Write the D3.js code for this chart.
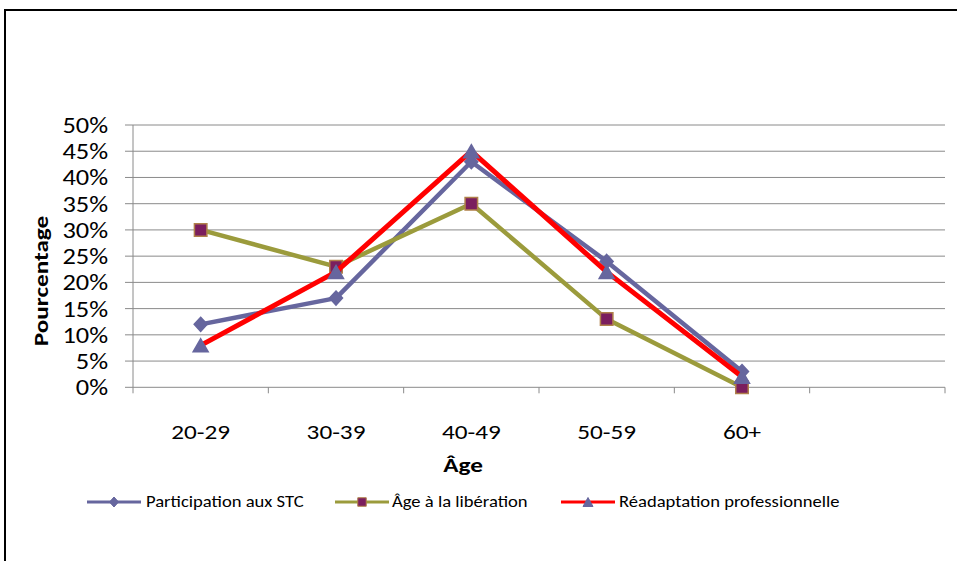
<!DOCTYPE html>
<html><head><meta charset="utf-8">
<script src="https://cdn.jsdelivr.net/npm/d3@7"></script>
<style>body{margin:0;background:#fff}svg{display:block}text{font-family:Carlito,Calibri,Lato,sans-serif}</style>
</head><body><svg id="c" width="957" height="561"></svg>
<script>
const categories = ["20-29","30-39","40-49","50-59","60+",""];
const participation = [12,17,43,24,3];
const liberation = [30,23,35,13,0];
const readaptation = [8,22,45,22,2];
const yTicks = [0,5,10,15,20,25,30,35,40,45,50];
const seriesNames = ["Participation aux STC","Âge à la libération","Réadaptation professionnelle"];

const svg = d3.select("#c");
svg.append("rect").attr("x",5).attr("y",10).attr("width",1100).attr("height",700)
  .attr("fill","#fff").attr("stroke","#000").attr("stroke-width",2);

const SX = 1.2; // horizontal stretch to mimic the original font metrics
const L=133,R=945,T=125,B=387.3;
const x = d3.scaleBand().domain(categories.map((c,i)=>i)).range([L,R]).paddingInner(0).paddingOuter(0);
const y = d3.scaleLinear().domain([0,50]).range([B,T]);

// gridlines
svg.append("g").selectAll("line").data(yTicks).join("line")
  .attr("x1",L-8).attr("x2",R).attr("y1",d=>y(d)).attr("y2",d=>y(d))
  .attr("stroke","#8a8a8a").attr("stroke-width",1);
svg.append("line").attr("x1",L).attr("x2",L).attr("y1",T).attr("y2",B).attr("stroke","#8a8a8a");
const bounds = d3.range(categories.length+1).map(i=>L+i*x.bandwidth());
svg.append("g").selectAll("line").data(bounds).join("line")
  .attr("x1",d=>d).attr("x2",d=>d).attr("y1",B).attr("y2",B+6).attr("stroke","#8a8a8a");
// y labels
svg.append("g").selectAll("text").data(yTicks).join("text")
  .attr("transform",d=>`translate(108,${y(d)}) scale(${SX},1)`).attr("dy","0.36em").attr("text-anchor","end")
  .attr("font-size",22).attr("fill","#000").text(d=>d+"%");
// x labels
svg.append("g").selectAll("text").data(categories).join("text")
  .attr("transform",(d,i)=>`translate(${x(i)+x.bandwidth()/2},439) scale(${SX},1)`).attr("text-anchor","middle")
  .attr("font-size",21).attr("fill","#000").text(d=>d);
// axis titles
svg.append("text").attr("transform",`translate(463,472) scale(${SX},1)`).attr("text-anchor","middle")
  .attr("font-size",21).attr("font-weight","bold").text("Âge");
svg.append("text").attr("transform",`translate(48,281) rotate(-90) scale(${SX},1)`).attr("text-anchor","middle")
  .attr("font-size",21).attr("font-weight","bold").text("Pourcentage");

const cx = i=>x(i)+x.bandwidth()/2;
const purple="#66669e", olive="#9b9b3c", red="#ff0000", magenta="#7b1e5e", tan="#b0804a";
const diamondP = (w,h)=>`M0,${-h/2}L${w/2},0L0,${h/2}L${-w/2},0Z`;
const squareP = s=>`M${-s/2},${-s/2}h${s}v${s}h${-s}Z`;
const triP = (w,h)=>`M0,${-h/2}L${w/2},${h/2}L${-w/2},${h/2}Z`;

const series = [
 {vals:participation, stroke:purple, w:4.5, d:diamondP(13,14), ld:diamondP(9,10), fill:purple, mstroke:purple},
 {vals:liberation, stroke:olive, w:4.5, d:squareP(12.5), ld:squareP(8.5), fill:magenta, mstroke:tan},
 {vals:readaptation, stroke:red, w:5, d:triP(15,13), ld:triP(10,9), fill:purple, mstroke:purple}
];
const line = d3.line().x((d,i)=>cx(i)).y(d=>y(d));
series.forEach(s=>{
  svg.append("path").attr("d",line(s.vals)).attr("fill","none").attr("stroke",s.stroke)
    .attr("stroke-width",s.w).attr("stroke-linejoin","round");
  svg.append("g").selectAll("path").data(s.vals).join("path")
    .attr("d",s.d).attr("transform",(d,i)=>`translate(${cx(i)},${y(d)})`)
    .attr("fill",s.fill).attr("stroke",s.mstroke).attr("stroke-width",1.5);
});

// legend
const legX=[87,335,561], legTextX=[146,392,619], ly=502;
series.forEach((s,k)=>{
  const g=svg.append("g");
  g.append("line").attr("x1",legX[k]).attr("x2",legX[k]+54).attr("y1",ly).attr("y2",ly)
   .attr("stroke",s.stroke).attr("stroke-width",3);
  g.append("path").attr("d",s.ld)
   .attr("transform",`translate(${legX[k]+27},${ly})`).attr("fill",s.fill).attr("stroke",s.mstroke).attr("stroke-width",1);
  g.append("text").attr("transform",`translate(${legTextX[k]},${ly}) scale(${SX},1)`).attr("dy","0.35em").attr("font-size",15.5)
   .text(seriesNames[k]);
});
</script></body></html>
